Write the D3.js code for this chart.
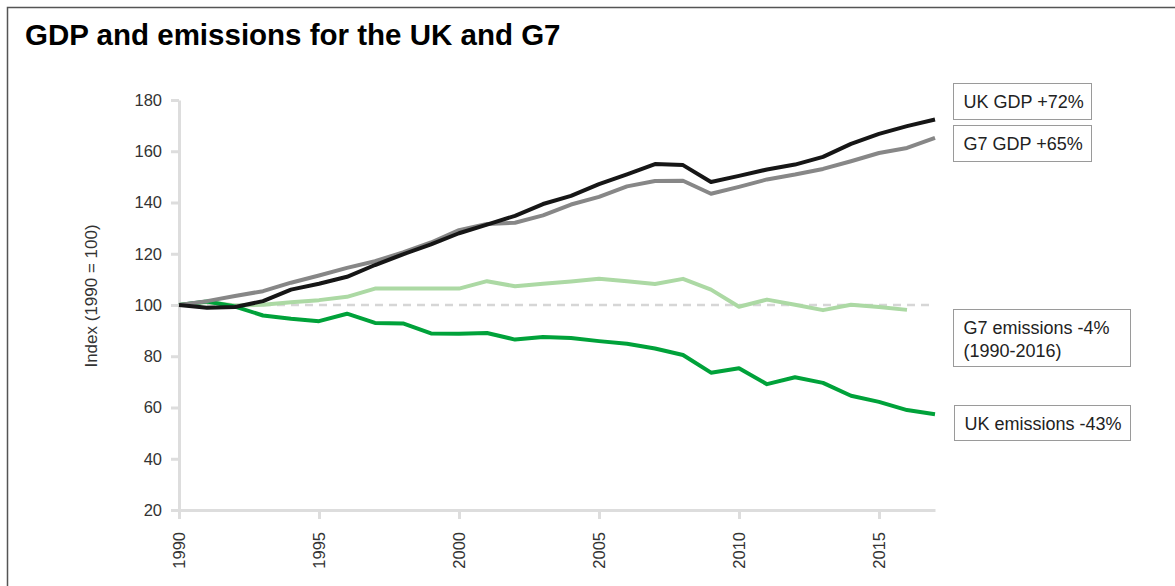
<!DOCTYPE html>
<html>
<head>
<meta charset="utf-8">
<script src="https://cdn.jsdelivr.net/npm/d3@7"></script>
<style>
  body { margin: 0; background: #fff; }
  svg { display: block; font-family: "Liberation Sans", Arial, sans-serif; }
</style>
</head>
<body>
<svg id="chart"></svg>
<script>
// Data
const years = d3.range(1990, 2018);
const ukGdp = [100, 98.9, 99.2, 101.5, 106, 108.3, 111, 115.6, 119.8, 123.7, 128, 131.4, 134.8, 139.4, 142.6, 147.2, 151, 155, 154.6, 148, 150.4, 152.9, 154.8, 157.8, 162.9, 166.8, 169.8, 172.4];
const g7Gdp = [100, 101.5, 103.5, 105.4, 108.7, 111.5, 114.5, 117.1, 120.5, 124.4, 129.2, 131.6, 132.1, 135, 139.2, 142.2, 146.3, 148.4, 148.5, 143.4, 146.1, 149, 150.9, 153.1, 156.1, 159.3, 161.3, 165.2];
const g7Emissions = [100, 101.2, 99.8, 100.1, 101.1, 101.9, 103.2, 106.4, 106.4, 106.4, 106.4, 109.3, 107.3, 108.3, 109.2, 110.2, 109.3, 108.2, 110.2, 106, 99.3, 102.1, 100.1, 98, 100.1, 99.2, 98.1];
const ukEmissions = [100, 101.4, 99.4, 95.9, 94.6, 93.7, 96.6, 93, 92.8, 88.9, 88.8, 89.1, 86.5, 87.5, 87.1, 85.9, 84.9, 83, 80.5, 73.6, 75.3, 69.1, 71.8, 69.6, 64.6, 62.2, 59, 57.4];
const yTicks = [20, 40, 60, 80, 100, 120, 140, 160, 180];
const xTicks = [1990, 1995, 2000, 2005, 2010, 2015];
const labelTexts = [["UK GDP +72%"], ["G7 GDP +65%"], ["G7 emissions -4%", "(1990-2016)"], ["UK emissions -43%"]];

const width = 1175, height = 586;
const svg = d3.select("#chart").attr("width", width).attr("height", height);

// frame
svg.append("rect")
  .attr("x", 7.5).attr("y", 7.5)
  .attr("width", 1200).attr("height", 620)
  .attr("fill", "none").attr("stroke", "#555").attr("stroke-width", 1.5);

svg.append("text")
  .attr("x", 25).attr("y", 45)
  .attr("font-size", 29.5).attr("font-weight", "bold").attr("fill", "#000")
  .text("GDP and emissions for the UK and G7");

const x = d3.scaleLinear().domain([1990, 2017]).range([179, 935]);
const y = d3.scaleLinear().domain([20, 180]).range([510, 100]);

// axes
const yAxis = svg.append("g")
  .attr("transform", `translate(${x(1990)},0)`)
  .call(d3.axisLeft(y).tickValues(yTicks).tickSize(8).tickPadding(9).tickSizeOuter(0));

const xAxis = svg.append("g")
  .attr("transform", `translate(0,${y(20)})`)
  .call(d3.axisBottom(x).tickValues(xTicks).tickFormat(d3.format("d")).tickSize(9).tickSizeOuter(0));

[yAxis, xAxis].forEach((g) => {
  g.select(".domain").attr("stroke", "#ddd").attr("stroke-width", 3);
  g.selectAll(".tick line").attr("stroke", "#ddd").attr("stroke-width", 3);
  g.selectAll(".tick text").attr("fill", "#333").attr("font-size", 16.5)
    .attr("font-family", "Liberation Sans, Arial, sans-serif");
});

xAxis.selectAll(".tick text")
  .attr("transform", "rotate(-90)")
  .attr("text-anchor", "end")
  .attr("x", -22).attr("y", 0).attr("dy", "0.35em");

svg.append("text")
  .attr("transform", `translate(97,${y(100) - 9}) rotate(-90)`)
  .attr("text-anchor", "middle")
  .attr("font-size", 17).attr("fill", "#333")
  .text("Index (1990 = 100)");

// reference line at 100
svg.append("line")
  .attr("x1", x(1990)).attr("x2", x(2017))
  .attr("y1", y(100)).attr("y2", y(100))
  .attr("stroke", "#d6d6d6").attr("stroke-width", 2.5)
  .attr("stroke-dasharray", "8,6");

const line = d3.line().x((d) => x(d[0])).y((d) => y(d[1]));

const series = [
  { values: g7Emissions, color: "#acd9a4" },
  { values: ukEmissions, color: "#00a23a" },
  { values: g7Gdp, color: "#878787" },
  { values: ukGdp, color: "#161616" },
];

svg.selectAll(".series")
  .data(series)
  .enter()
  .append("path")
  .attr("class", "series")
  .attr("d", (s) => line(s.values.map((v, i) => [years[i], v])))
  .attr("fill", "none")
  .attr("stroke", (s) => s.color)
  .attr("stroke-width", 4)
  .attr("stroke-linejoin", "round");

// annotation boxes
const boxes = [
  { x: 953, y: 83, w: 138, h: 36 },
  { x: 953, y: 125, w: 138, h: 36 },
  { x: 953, y: 309, w: 177, h: 57 },
  { x: 954, y: 405, w: 176, h: 35 },
];

const box = svg.selectAll(".note")
  .data(labelTexts)
  .enter()
  .append("g")
  .attr("class", "note")
  .attr("transform", (d, i) => `translate(${boxes[i].x + 0.5},${boxes[i].y + 0.5})`);

box.append("rect")
  .attr("width", (d, i) => boxes[i].w)
  .attr("height", (d, i) => boxes[i].h)
  .attr("fill", "#fff")
  .attr("stroke", "#9a9a9a");

box.each(function (lines) {
  const g = d3.select(this);
  lines.forEach((t, j) => {
    g.append("text")
      .attr("x", 10).attr("y", 24 + j * 23)
      .attr("font-size", 18).attr("fill", "#222")
      .text(t);
  });
});
</script>
</body>
</html>
